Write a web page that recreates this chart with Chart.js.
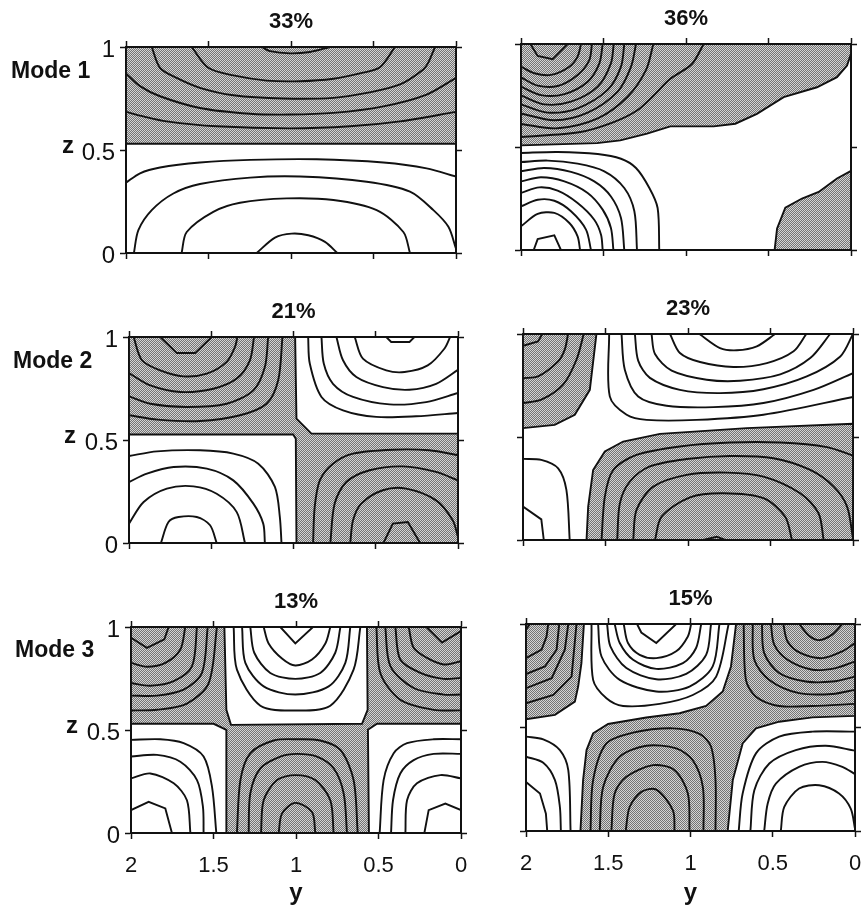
<!DOCTYPE html>
<html>
<head>
<meta charset="utf-8">
<script src="https://cdn.jsdelivr.net/npm/chart.js@4"></script>
<style>
  html, body { margin: 0; padding: 0; background: #fff; }
  #page { position: relative; width: 863px; height: 905px; overflow: hidden; font-family: "Liberation Sans", Arial, sans-serif; color: #111; }
  canvas { position: absolute; }
  .lab { position: absolute; font-weight: bold; line-height: 1; white-space: nowrap; }
</style>
</head>
<body>
<div id="page"></div>
<script>
// every contour is a list of [y, z] pairs
const yTicks = [0, 0.5, 1, 1.5, 2];
const zTicks = [0, 0.5, 1];
const percents = ["33%", "36%", "21%", "23%", "13%", "15%"];
const modeNames = ["Mode 1", "Mode 2", "Mode 3"];

const shaded1 = [
  [[2,1],[0,1],[0,.53],[2,.53],[2,1]]
];
const lines1 = [
  [[1.178,1],[1.127,.98],[1.006,.969],[.885,.976],[.764,1]],
  [[1.602,1],[1.501,.899],[1.349,.862],[1.147,.837],[.945,.834],[.743,.846],[.582,.872],[.461,.902],[.37,1]],
  [[1.844,1],[1.794,.899],[1.693,.85],[1.552,.802],[1.349,.766],[1.046,.75],[.743,.753],[.541,.777],[.339,.818],[.198,.891],[.168,.924],[.127,1]],
  [[2,.872],[1.915,.81],[1.794,.761],[1.552,.704],[1.248,.676],[1.006,.672],[.743,.68],[.44,.712],[.178,.769],[0,.85]],
  [[2,.685],[1.895,.663],[1.754,.639],[1.451,.615],[1.006,.605],[.642,.615],[.339,.639],[0,.685]],
  [[2,.341],[1.915,.387],[1.794,.415],[1.552,.439],[1.248,.452],[.844,.455],[.44,.439],[.178,.411],[0,.371]],
  [[1.952,0],[1.925,.111],[1.844,.208],[1.713,.289],[1.552,.335],[1.248,.366],[.945,.371],[.541,.346],[.279,.298],[.137,.208],[.046,.127],[0,.021]],
  [[1.663,0],[1.632,.102],[1.471,.2],[1.309,.244],[1.026,.265],[.743,.257],[.481,.208],[.319,.102],[.279,0]],
  [[1.208,0],[1.097,.075],[.996,.094],[.895,.086],[.794,.054],[.719,0]]
];

const shaded2 = [
  [[2,1],[2,.508],[1.539,.519],[1.398,.532],[1.236,.565],[1.095,.6],[.832,.6],[.701,.613],[.57,.661],[.408,.742],[.206,.79],[.085,.839],[.024,.895],[0,.952],[0,1],[2,1]],
  [[.463,0],[.448,.105],[.398,.206],[.297,.25],[.196,.282],[.085,.347],[0,.384],[0,0],[.463,0]]
];
const lines2 = [
  [[1.943,1],[1.899,.942],[1.808,.926],[1.717,1]],
  [[2,.89],[1.919,.858],[1.818,.85],[1.707,.89],[1.657,.939],[1.636,1]],
  [[2,.838],[1.899,.798],[1.778,.796],[1.657,.85],[1.586,.922],[1.57,1]],
  [[2,.793],[1.879,.752],[1.737,.757],[1.596,.817],[1.525,.906],[1.505,1]],
  [[2,.751],[1.859,.707],[1.697,.72],[1.535,.793],[1.455,.906],[1.438,1]],
  [[2,.707],[1.838,.667],[1.657,.688],[1.475,.777],[1.394,.89],[1.374,1]],
  [[2,.663],[1.798,.63],[1.596,.667],[1.414,.769],[1.333,.89],[1.303,1]],
  [[2,.612],[1.778,.591],[1.535,.639],[1.354,.744],[1.242,.874],[1.198,1]],
  [[2,.548],[1.64,.573],[1.438,.621],[1.297,.677],[1.196,.75],[1.095,.831],[.964,.903],[.893,1]],
  [[2,.471],[1.778,.476],[1.535,.466],[1.394,.443],[1.303,.398],[1.222,.301],[1.172,.204],[1.162,0]],
  [[2,.427],[1.838,.434],[1.657,.419],[1.495,.382],[1.374,.301],[1.313,.188],[1.297,0]],
  [[2,.382],[1.859,.398],[1.697,.379],[1.556,.333],[1.455,.26],[1.394,.155],[1.374,0]],
  [[2,.333],[1.879,.353],[1.737,.333],[1.596,.277],[1.505,.196],[1.455,.107],[1.44,0]],
  [[2,.277],[1.889,.304],[1.778,.288],[1.657,.228],[1.556,.147],[1.515,.074],[1.505,0]],
  [[2,.212],[1.899,.244],[1.798,.239],[1.697,.188],[1.606,.099],[1.576,0]],
  [[2,.115],[1.899,.175],[1.798,.18],[1.707,.131],[1.657,.066],[1.642,0]],
  [[1.923,0],[1.899,.053],[1.798,.071],[1.758,0]]
];

const shaded3 = [
  [[2,1],[2,.527],[1.002,.527],[.986,.506],[.982,0],[0,0],[0,.531],[.891,.531],[.982,.604],[.99,1],[2,1]]
];
const lines3 = [
  [[1.81,1],[1.709,.922],[1.598,.922],[1.497,1]],
  [[1.972,1],[1.921,.887],[1.81,.838],[1.669,.809],[1.527,.822],[1.406,.879],[1.356,.951],[1.341,1]],
  [[2,.825],[1.87,.765],[1.689,.733],[1.487,.749],[1.345,.798],[1.265,.887],[1.24,1]],
  [[2,.712],[1.87,.676],[1.648,.66],[1.406,.676],[1.244,.741],[1.174,.854],[1.154,1]],
  [[2,.62],[1.826,.599],[1.568,.592],[1.325,.62],[1.164,.676],[1.093,.79],[1.067,1]],
  [[.436,1],[.406,.976],[.295,.976],[.265,1]],
  [[.628,1],[.578,.895],[.436,.838],[.325,.83],[.184,.862],[.083,.943],[.048,1]],
  [[.739,1],[.699,.887],[.618,.806],[.456,.757],[.295,.744],[.133,.773],[0,.841]],
  [[.83,1],[.816,.871],[.76,.773],[.638,.709],[.416,.673],[.194,.684],[0,.728]],
  [[.911,1],[.901,.871],[.83,.709],[.699,.644],[.497,.612],[.255,.615],[0,.631]],
  [[2,.422],[1.83,.445],[1.568,.45],[1.366,.434],[1.214,.385],[1.113,.272],[1.083,.126],[1.073,0]],
  [[2,.296],[1.891,.337],[1.729,.369],[1.527,.361],[1.366,.304],[1.244,.191],[1.184,.094],[1.174,0]],
  [[2,.094],[1.911,.199],[1.77,.264],[1.608,.275],[1.467,.239],[1.345,.15],[1.295,0]],
  [[1.806,0],[1.76,.102],[1.699,.126],[1.588,.126],[1.507,.086],[1.467,0]],
  [[0,.426],[.174,.45],[.396,.453],[.638,.434],[.76,.385],[.84,.304],[.871,.175],[.881,0]],
  [[0,.304],[.133,.345],[.335,.372],[.537,.353],[.679,.296],[.75,.191],[.776,0]],
  [[0,.029],[.032,.11],[.133,.207],[.315,.264],[.457,.256],[.588,.191],[.638,.11],[.655,0]],
  [[.453,0],[.396,.094],[.305,.102],[.23,0]]
];

const shaded4 = [
  [[2,1],[2,.543],[1.808,.559],[1.686,.608],[1.595,.729],[1.555,1],[2,1]],
  [[1.615,0],[1.605,.162],[1.575,.34],[1.504,.43],[1.393,.478],[1.17,.515],[.644,.543],[0,.564],[0,0],[1.615,0]]
];
const lines4 = [
  [[2,.943],[1.909,.964],[1.883,1]],
  [[2,.786],[1.909,.794],[1.787,.867],[1.747,.924],[1.727,1]],
  [[2,.665],[1.889,.681],[1.757,.754],[1.676,.875],[1.632,1]],
  [[.931,1],[.806,.932],[.704,.921],[.583,.94],[.472,1]],
  [[1.109,1],[1.049,.908],[.927,.864],[.725,.84],[.522,.859],[.36,.916],[.283,1]],
  [[1.221,1],[1.2,.903],[1.099,.822],[.887,.778],[.684,.773],[.441,.804],[.259,.883],[.138,1]],
  [[1.322,1],[1.302,.871],[1.231,.787],[1.049,.729],[.806,.713],[.543,.732],[.28,.794],[.077,.891],[0,1]],
  [[1.403,1],[1.383,.827],[1.302,.697],[1.13,.652],[.846,.645],[.543,.665],[.239,.729],[0,.81]],
  [[1.478,1],[1.474,.697],[1.372,.608],[1.251,.583],[.947,.583],[.543,.608],[0,.694]],
  [[2,.394],[1.889,.389],[1.787,.348],[1.737,.243],[1.717,0]],
  [[2,.162],[1.889,.1],[1.874,0]],
  [[1.524,0],[1.504,.211],[1.453,.34],[1.312,.413],[1.049,.454],[.745,.473],[.441,.473],[.158,.451],[0,.41]],
  [[1.429,0],[1.413,.178],[1.352,.284],[1.231,.357],[1.008,.393],[.745,.408],[.482,.397],[.259,.34],[.117,.259],[.036,.162],[0,.008]],
  [[1.332,0],[1.312,.146],[1.21,.259],[1.008,.316],[.765,.327],[.543,.308],[.32,.227],[.209,.13],[.178,0]],
  [[1.2,0],[1.16,.113],[.988,.207],[.785,.227],[.543,.203],[.411,.113],[.37,0]],
  [[.907,0],[.826,.016],[.775,0]]
];

const shaded5 = [
  [[2,1],[1.434,1],[1.422,.598],[1.394,.525],[.6,.53],[.566,.598],[.57,1],[0,1],[0,.53],[.509,.53],[.564,.501],[.558,0],[1.422,0],[1.422,.501],[1.499,.53],[2,.53],[2,1]]
];
const lines5 = [
  [[2,.948],[1.903,.899],[1.798,.94],[1.772,1]],
  [[2,.826],[1.903,.807],[1.792,.826],[1.701,.891],[1.671,1]],
  [[2,.728],[1.883,.715],[1.741,.737],[1.63,.81],[1.6,1]],
  [[2,.667],[1.842,.667],[1.681,.696],[1.57,.777],[1.535,1]],
  [[2,.595],[1.842,.598],[1.661,.628],[1.529,.728],[1.479,1]],
  [[1.095,1],[1.004,.92],[.897,1]],
  [[1.196,1],[1.166,.92],[1.085,.847],[1.004,.813],[.903,.842],[.822,.92],[.792,1]],
  [[1.277,1],[1.253,.875],[1.156,.777],[1.004,.748],[.853,.777],[.762,.875],[.731,1]],
  [[1.327,1],[1.307,.826],[1.196,.712],[1.004,.672],[.802,.712],[.701,.826],[.671,1]],
  [[1.378,1],[1.358,.793],[1.216,.618],[1.004,.595],[.792,.618],[.651,.793],[.61,1]],
  [[.21,1],[.115,.924],[0,.98]],
  [[.317,1],[.287,.899],[.206,.85],[.105,.818],[0,.834]],
  [[.398,1],[.368,.842],[.246,.777],[.105,.748],[0,.753]],
  [[.459,1],[.428,.81],[.287,.704],[.105,.672],[0,.672]],
  [[.513,1],[.489,.777],[.368,.647],[.166,.598],[0,.595]],
  [[2,.452],[1.822,.455],[1.681,.436],[1.56,.371],[1.509,.224],[1.483,0]],
  [[2,.371],[1.842,.379],[1.701,.346],[1.6,.257],[1.564,.127],[1.56,0]],
  [[2,.265],[1.883,.289],[1.741,.241],[1.661,.159],[1.64,0]],
  [[2,.111],[1.893,.151],[1.792,.119],[1.752,0]],
  [[1.358,0],[1.337,.257],[1.277,.387],[1.135,.449],[.994,.455],[.853,.449],[.731,.403],[.651,.257],[.626,0]],
  [[1.287,0],[1.277,.192],[1.216,.314],[1.095,.371],[.994,.384],[.873,.371],[.772,.314],[.711,.192],[.691,0]],
  [[1.212,0],[1.196,.159],[1.115,.257],[1.004,.281],[.883,.257],[.792,.159],[.772,0]],
  [[1.105,0],[1.085,.094],[1.004,.146],[.903,.102],[.883,0]],
  [[0,.455],[.166,.455],[.327,.436],[.408,.387],[.469,.257],[.493,0]],
  [[0,.384],[.166,.384],[.287,.354],[.368,.289],[.412,.159],[.424,0]],
  [[0,.265],[.125,.281],[.267,.241],[.327,.159],[.337,0]],
  [[0,.111],[.095,.143],[.196,.111],[.222,0]]
];

const shaded6 = [
  [[2,1],[1.648,1],[1.663,.811],[1.683,.698],[1.703,.625],[1.824,.561],[2,.54],[2,1]],
  [[.723,1],[0,1],[0,.556],[.259,.549],[.461,.528],[.602,.496],[.683,.423],[.743,.246],[.774,0],[1.669,0],[1.653,.246],[1.632,.391],[1.592,.472],[1.501,.517],[1.269,.548],[1.067,.569],[.905,.604],[.804,.674],[.754,.795],[.723,1]]
];
const lines6 = [
  [[2,.973],[1.976,1]],
  [[2,.835],[1.905,.876],[1.875,.94],[1.865,1]],
  [[2,.758],[1.885,.795],[1.814,.876],[1.798,1]],
  [[2,.69],[1.844,.738],[1.764,.876],[1.743,1]],
  [[2,.617],[1.834,.657],[1.723,.746],[1.693,1]],
  [[1.325,1],[1.299,.959],[1.208,.908],[1.087,1]],
  [[1.406,1],[1.38,.908],[1.309,.851],[1.208,.835],[1.087,.868],[1.016,.94],[.996,1]],
  [[1.461,1],[1.43,.908],[1.349,.827],[1.208,.783],[1.046,.811],[.966,.884],[.935,1]],
  [[1.507,1],[1.487,.892],[1.39,.787],[1.208,.733],[1.026,.759],[.905,.851],[.875,1]],
  [[1.562,1],[1.541,.843],[1.43,.73],[1.208,.674],[1.006,.698],[.865,.795],[.824,1]],
  [[1.602,1],[1.592,.73],[1.511,.641],[1.41,.604],[1.188,.614],[.986,.657],[.844,.746],[.768,1]],
  [[.339,1],[.279,.943],[.218,.922],[.137,.95],[.077,1]],
  [[.436,1],[.41,.916],[.329,.859],[.198,.835],[.077,.868],[0,.908]],
  [[.511,1],[.491,.9],[.41,.827],[.259,.779],[.117,.787],[0,.819]],
  [[.566,1],[.552,.859],[.461,.763],[.299,.722],[.137,.722],[0,.746]],
  [[.622,1],[.612,.827],[.521,.73],[.34,.666],[.137,.662],[0,.682]],
  [[.677,1],[.663,.73],[.602,.649],[.461,.604],[.259,.604],[0,.614]],
  [[2,.456],[1.895,.443],[1.794,.391],[1.743,.294],[1.729,0]],
  [[2,.359],[1.895,.33],[1.824,.246],[1.794,.116],[1.788,0]],
  [[2,.237],[1.915,.181],[1.879,.084],[1.871,0]],
  [[1.608,0],[1.592,.246],[1.511,.423],[1.35,.475],[1.107,.496],[.945,.469],[.875,.407],[.848,.246],[.848,0]],
  [[1.552,0],[1.531,.213],[1.43,.359],[1.269,.412],[1.087,.399],[.986,.342],[.925,.213],[.921,0]],
  [[1.481,0],[1.461,.181],[1.39,.262],[1.228,.318],[1.097,.294],[1.016,.181],[1.006,0]],
  [[1.394,0],[1.37,.116],[1.299,.189],[1.208,.2],[1.107,.1],[1.097,0]],
  [[.707,0],[.683,.181],[.602,.375],[.461,.456],[.259,.48],[0,.48]],
  [[.636,0],[.612,.197],[.521,.326],[.36,.391],[.178,.412],[0,.388]],
  [[.552,0],[.531,.132],[.481,.229],[.34,.31],[.198,.334],[.077,.31],[0,.275]],
  [[.451,0],[.43,.116],[.34,.205],[.218,.221],[.097,.181],[.026,.108],[0,.011]]
];

const shadedByPanel = [shaded1, shaded2, shaded3, shaded4, shaded5, shaded6];
const linesByPanel = [lines1, lines2, lines3, lines4, lines5, lines6];

// plot rectangles on the page: left, top, right, bottom
const boxes = [
  [126, 47, 456, 253], [521, 44, 851, 250],
  [129, 337, 458, 543], [523, 334, 853, 540],
  [131, 627, 461, 833], [526, 624, 855, 831]
];

const page = document.getElementById("page");
const ink = "#111";
const lineW = 1.9;
const fontFam = '"Liberation Sans", Arial, sans-serif';
const titleSize = 22;
const titleTop = 2;

function stipple() {
  const tile = document.createElement("canvas");
  tile.width = 2;
  tile.height = 2;
  const c = tile.getContext("2d");
  c.fillStyle = "#d4d4d4";
  c.fillRect(0, 0, 2, 2);
  c.fillStyle = "#747474";
  c.fillRect(0, 0, 1, 1);
  c.fillRect(1, 1, 1, 1);
  return c.createPattern(tile, "repeat");
}

function toPoints(pairs) {
  return pairs.map(p => ({ x: p[0], y: p[1] }));
}

function addLabel(text, left, top, size) {
  const d = document.createElement("div");
  d.className = "lab";
  d.textContent = text;
  d.style.left = left + "px";
  d.style.top = top + "px";
  d.style.fontSize = size + "px";
  page.appendChild(d);
}

function drawPanel(i) {
  const [x0, y0, x1, y1] = boxes[i];
  const isLeft = i % 2 === 0;
  const isBottom = i >= 4;
  const L = isLeft ? x0 : 40;
  const R = 8;
  const T = 40;
  // the bottom row runs a little past the page so the y title sits lower
  const B = isBottom ? 908 - y1 : 30;

  const canvas = document.createElement("canvas");
  canvas.style.left = (x0 - L) + "px";
  canvas.style.top = (y0 - T) + "px";
  canvas.width = x1 - x0 + L + R;
  canvas.height = y1 - y0 + T + B;
  page.appendChild(canvas);

  const fillPat = stipple();
  const datasets = [];
  linesByPanel[i].forEach(l => {
    // the short caps are angular in the picture, the long contours are smooth
    const tension = l.length <= 4 ? 0 : 0.3;
    datasets.push({ data: toPoints(l), borderColor: ink, borderWidth: lineW, fill: false, tension, order: 1 });
  });
  shadedByPanel[i].forEach(s => {
    datasets.push({ data: toPoints(s), borderColor: ink, borderWidth: lineW, backgroundColor: fillPat, fill: "shape", order: 2 });
  });

  const axisBase = {
    border: { display: true, color: ink, width: 2 },
    grid: { drawOnChartArea: false, drawTicks: true, tickLength: 6, tickColor: ink, tickWidth: 1.5 }
  };
  const yAxisOpts = (pos, showText, size) => ({
    ...axisBase,
    type: "linear",
    position: pos,
    reverse: true,
    min: 0,
    max: 2,
    afterBuildTicks: s => { s.ticks = yTicks.map(v => ({ value: v })); },
    afterFit: s => { s.height = size; },
    ticks: { display: showText, font: { family: fontFam, size: 22 }, color: ink, padding: 14, maxRotation: 0, autoSkip: false, callback: v => String(v) },
    title: showText
      ? { display: true, text: "y", color: ink, font: { family: fontFam, size: 24, weight: "bold" }, padding: { top: 0, bottom: 0 } }
      : { display: false }
  });
  const zAxisOpts = (pos, showText, size) => ({
    ...axisBase,
    type: "linear",
    position: pos,
    min: 0,
    max: 1,
    afterBuildTicks: s => { s.ticks = zTicks.map(v => ({ value: v })); },
    afterFit: s => { s.width = size; },
    ticks: { display: showText, font: { family: fontFam, size: 24 }, color: ink, padding: 5, labelOffset: 3, autoSkip: false, callback: v => String(v) }
  });

  new Chart(canvas, {
    type: "scatter",
    data: { datasets },
    options: {
      responsive: false,
      animation: false,
      showLine: true,
      elements: { point: { radius: 0 }, line: { tension: 0 } },
      layout: { padding: 0 },
      plugins: {
        legend: { display: false },
        tooltip: { enabled: false },
        title: {
          display: true,
          text: percents[i],
          color: ink,
          fullSize: false,
          padding: { top: titleTop, bottom: 0 },
          font: { family: fontFam, size: titleSize, weight: "bold", lineHeight: 1.2 }
        }
      },
      scales: {
        x: yAxisOpts("bottom", isBottom, B),
        x2: yAxisOpts("top", false, T - titleTop - titleSize * 1.2),
        y: zAxisOpts("left", isLeft, L),
        y2: zAxisOpts("right", false, R)
      }
    }
  });
}

for (let i = 0; i < boxes.length; i++) drawPanel(i);

modeNames.forEach((name, r) => {
  addLabel(name, [11, 13, 15][r], [59, 349, 638][r], 23);
  addLabel("z", [62, 64, 66][r], [133, 423, 713][r], 24);
});
</script>
</body>
</html>
